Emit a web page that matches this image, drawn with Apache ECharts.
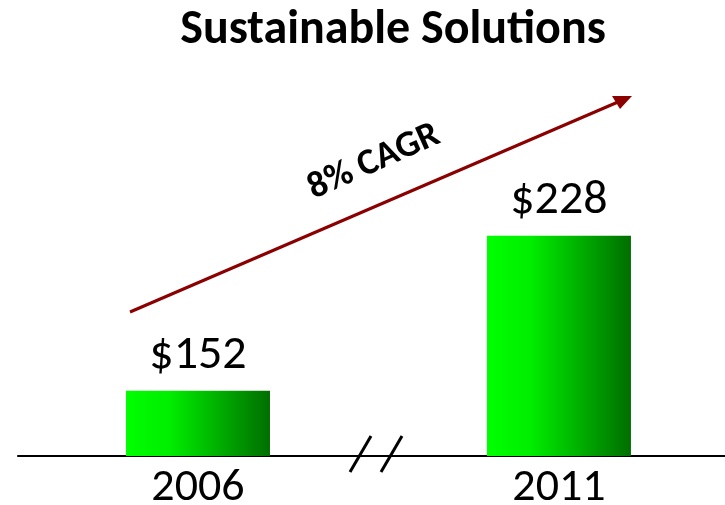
<!DOCTYPE html>
<html>
<head>
<meta charset="utf-8">
<script src="https://cdn.jsdelivr.net/npm/echarts@6/dist/echarts.min.js"></script>
<style>
html, body { margin: 0; padding: 0; background: #fff; }
#chartsdiv { width: 725px; height: 505px; }
</style>
</head>
<body>
<div id="chartsdiv"></div>
<script>
// data
var years = ['2006', '2011'];
var revenue = [152, 228];
var growthLabel = '8% CAGR';

var fontFam = 'Carlito, Lato, "Open Sans", sans-serif';
var myChart = echarts.init(document.getElementById('chartsdiv'));

// bars sit at x = 0 and 1 on a value axis
var barData = [];
years.forEach(function (y, i) {
    barData.push([i, revenue[i]]);
});

var barColor = new echarts.graphic.LinearGradient(0, 0, 1, 0, [
    { offset: 0, color: '#00ff00' },
    { offset: 0.3, color: '#00ee00' },
    { offset: 1, color: '#006e00' }
]);

var option = {
    backgroundColor: '#fff',
    animation: false,
    title: {
        text: 'Sustainable Solutions',
        left: 388,
        top: 2,
        textAlign: 'center',
        textStyle: { fontFamily: fontFam, fontSize: 48, fontWeight: 'bold', color: '#000' }
    },
    grid: { left: 18, top: 191, right: 0, height: 265, outerBoundsMode: 'none', containLabel: false },
    xAxis: {
        type: 'value',
        min: -0.4986,
        max: 1.46,
        splitLine: { show: false },
        axisTick: { show: false },
        axisLine: { show: true, lineStyle: { color: '#000', width: 2 } },
        axisLabel: {
            customValues: [0, 1],
            formatter: function (v) { return years[Math.round(v)]; },
            fontFamily: fontFam, fontSize: 46, color: '#000', margin: 9
        }
    },
    yAxis: {
        type: 'value',
        min: 120,
        max: 250,
        show: false
    },
    series: [{
        type: 'bar',
        data: barData,
        barWidth: 144,
        itemStyle: { color: barColor },
        label: {
            show: true,
            position: 'top',
            distance: 11,
            formatter: function (p) { return '$' + p.value[1]; },
            fontFamily: fontFam,
            fontSize: 48,
            color: '#000'
        }
    }],
    graphic: [
        // axis break marks
        { type: 'line', shape: { x1: 350, y1: 472, x2: 371, y2: 436 }, style: { stroke: '#000', lineWidth: 3 } },
        { type: 'line', shape: { x1: 381, y1: 472, x2: 402, y2: 436 }, style: { stroke: '#000', lineWidth: 3 } },
        // growth arrow
        { type: 'line', shape: { x1: 130, y1: 312, x2: 618, y2: 102 }, style: { stroke: '#8b0000', lineWidth: 3 } },
        { type: 'polygon', shape: { points: [[632, 96], [612, 96], [620, 109]] }, style: { fill: '#8b0000' } },
        {
            type: 'text',
            x: 374, y: 162,
            rotation: 24 * Math.PI / 180,
            style: {
                text: growthLabel,
                fontFamily: fontFam,
                fontSize: 37,
                fontWeight: 'bold',
                fill: '#000',
                align: 'center',
                verticalAlign: 'middle'
            }
        }
    ]
};
myChart.setOption(option);
</script>
</body>
</html>
